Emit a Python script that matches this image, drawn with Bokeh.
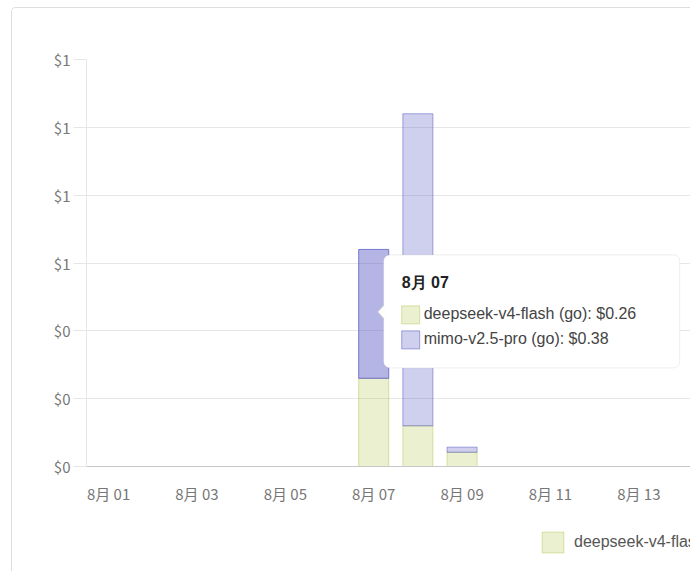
from bokeh.plotting import figure
from bokeh.layouts import column
from bokeh.models import (Range1d, FixedTicker, NumeralTickFormatter, Legend, LegendItem,
                          BoxAnnotation, ColumnDataSource)
from bokeh.core.properties import value
from bokeh.embed import file_html
from bokeh.resources import INLINE

# ---------------- data ----------------
dates = ["8月 01", "8月 02", "8月 03", "8月 04", "8月 05", "8月 06", "8月 07",
         "8月 08", "8月 09", "8月 10", "8月 11", "8月 12", "8月 13", "8月 14"]
series_names = ["deepseek-v4-flash (go)", "mimo-v2.5-pro (go)"]
deepseek = [0, 0, 0, 0, 0, 0, 0.26, 0.12, 0.042, 0, 0, 0, 0, 0]
mimo = [0, 0, 0, 0, 0, 0, 0.38, 0.92, 0.015, 0, 0, 0, 0, 0]
y_ticks = [0, 0.2, 0.4, 0.6, 0.8, 1.0, 1.2]
tooltip_date = "8月 07"
label_step = 2

# ---------------- styling / layout ----------------
FIG_W, FIG_H = 678, 508
LEG_H = 55
MB_L, MB_T, MB_B, MB_R = 74, 51, 50, 0
X0, X1 = -0.5, 13.17
Y0, Y1 = 0, 1.2
FRAME_W = FIG_W - MB_L - MB_R
FRAME_H = FIG_H - MB_T - MB_B
BAR_W = 0.68

GREEN = (175, 195, 70)
PURPLE = (95, 95, 200)


def dx(px):
    return px * (X1 - X0) / FRAME_W


def dy(px):
    return px * (Y1 - Y0) / FRAME_H


def rgba(c, a):
    return "rgba(%d,%d,%d,%.2f)" % (c[0], c[1], c[2], a)


hover_idx = dates.index(tooltip_date)

p = figure(width=FIG_W, height=FIG_H, output_backend="svg", toolbar_location=None,
           x_range=Range1d(X0, X1), y_range=Range1d(Y0, Y1),
           min_border_left=MB_L, min_border_top=MB_T, min_border_bottom=MB_B,
           min_border_right=MB_R)
p.outline_line_color = None
p.background_fill_color = "white"
p.border_fill_color = "white"

# bars
idx = list(range(len(dates)))
g_rows = [i for i in idx if deepseek[i] > 0]
m_rows = [i for i in idx if mimo[i] > 0]
src_g = ColumnDataSource(dict(x=g_rows, bottom=[0] * len(g_rows),
                              top=[deepseek[i] for i in g_rows]))
src_m = ColumnDataSource(dict(
    x=m_rows,
    bottom=[deepseek[i] for i in m_rows],
    top=[deepseek[i] + mimo[i] for i in m_rows],
    fill=[rgba(PURPLE, 0.47 if i == hover_idx else 0.30) for i in m_rows],
    line=[rgba(PURPLE, 0.80 if i == hover_idx else 0.55) for i in m_rows],
))
rg = p.vbar(x="x", bottom="bottom", top="top", width=BAR_W, source=src_g,
            fill_color=rgba(GREEN, 0.25), line_color=rgba(GREEN, 0.45), line_width=1)
rm = p.vbar(x="x", bottom="bottom", top="top", width=BAR_W, source=src_m,
            fill_color="fill", line_color="line", line_width=1)

# axes
xa = p.xaxis[0]
xa.ticker = FixedTicker(ticks=list(range(0, len(dates), label_step)))
xa.major_label_overrides = {i: dates[i] for i in range(0, len(dates), label_step)}
xa.major_tick_line_color = None
xa.minor_tick_line_color = None
xa.major_tick_out = 0
xa.axis_line_color = "#c8c8c8"
xa.major_label_standoff = 16
xa.major_label_text_font = "Noto Sans CJK SC"
xa.major_label_text_font_size = "15px"
xa.major_label_text_color = "#777777"

ya = p.yaxis[0]
ya.ticker = FixedTicker(ticks=y_ticks)
ya.formatter = NumeralTickFormatter(format="$0")
ya.axis_line_color = "#e6e6e6"
ya.major_tick_line_color = "#e6e6e6"
ya.major_tick_out = 13
ya.major_tick_in = 0
ya.minor_tick_line_color = None
ya.major_label_standoff = 3
ya.major_label_text_font = "Noto Sans CJK SC"
ya.major_label_text_font_size = "15px"
ya.major_label_text_color = "#777777"

p.xgrid.grid_line_color = None
p.ygrid.ticker = FixedTicker(ticks=y_ticks)
p.ygrid.grid_line_color = "#e6e6e6"

# tooltip for the hovered day
ax = hover_idx
ay = (deepseek[hover_idx] + (deepseek[hover_idx] + mimo[hover_idx])) / 2.0
box = BoxAnnotation(left=ax + dx(10), right=ax + dx(306), top=ay + dy(59), bottom=ay - dy(54),
                    fill_color="white", fill_alpha=1.0, line_color="#c8c8c8", line_width=1,
                    border_radius=6)
p.add_layout(box)

tip_x = ax + dx(4)
base_x = ax + dx(11)
cy = ay + dy(2)
car = p.patch(x=[tip_x, base_x, base_x], y=[cy, cy + dy(7), cy - dy(7)],
              fill_color="white", line_color=None)
car.level = "overlay"
car_l = p.line(x=[base_x - dx(1), tip_x, base_x - dx(1)], y=[cy + dy(7), cy, cy - dy(7)],
               line_color="#c8c8c8", line_width=1)
car_l.level = "overlay"

t1 = p.text(x=[ax], y=[ay], text=[tooltip_date], x_offset=28, y_offset=-31,
            text_font=value("Liberation Sans"), text_font_style="bold",
            text_font_size="16px", text_color="#222222", text_baseline="middle")
t1.level = "overlay"

vals = [deepseek[hover_idx], mimo[hover_idx]]
fills = [rgba(GREEN, 0.25), rgba(PURPLE, 0.30)]
lines = [rgba(GREEN, 0.45), rgba(PURPLE, 0.55)]
for k in range(2):
    sq = p.rect(x=[ax + dx(37)], y=[ay - dy(1 + 25 * k)], width=18, height=18,
                width_units="screen", height_units="screen",
                fill_color="white", line_color=None)
    sq.level = "overlay"
    sq2 = p.rect(x=[ax + dx(37)], y=[ay - dy(1 + 25 * k)], width=18, height=18,
                 width_units="screen", height_units="screen",
                 fill_color=fills[k], line_color=lines[k], line_width=1)
    sq2.level = "overlay"
    tt = p.text(x=[ax], y=[ay], text=["%s: $%.2f" % (series_names[k], vals[k])],
                x_offset=50, y_offset=25 * k,
                text_font=value("Liberation Sans"), text_font_size="16px",
                text_color="#444444", text_baseline="middle")
    tt.level = "overlay"

# legend strip (only the part inside the window is visible)
lp = figure(width=FIG_W, height=LEG_H, output_backend="svg", toolbar_location=None,
            x_range=Range1d(0, 1), y_range=Range1d(0, 1),
            min_border_left=MB_L, min_border_top=0, min_border_bottom=0, min_border_right=0,
            x_axis_type=None, y_axis_type=None)
lp.outline_line_color = None
lp.xgrid.grid_line_color = None
lp.ygrid.grid_line_color = None
lp.background_fill_color = "white"
lp.border_fill_color = "white"
lg = lp.vbar(x=[-10], top=[-10], width=0.5, fill_color=rgba(GREEN, 0.25),
             line_color=rgba(GREEN, 0.45), line_width=1)
lm = lp.vbar(x=[-10], top=[-10], width=0.5, fill_color=rgba(PURPLE, 0.30),
             line_color=rgba(PURPLE, 0.55), line_width=1)
legend = Legend(items=[LegendItem(label=series_names[0], renderers=[lg]),
                       LegendItem(label=series_names[1], renderers=[lm])],
                orientation="horizontal", location=(453, 16),
                glyph_width=27, glyph_height=26, label_standoff=8, spacing=12,
                padding=0, margin=0, label_text_font="Liberation Sans",
                label_text_font_size="16px", label_text_color="#555555",
                background_fill_alpha=0, border_line_alpha=0)
lp.add_layout(legend, "center")

layout = column(p, lp, spacing=0, margin=(7, 0, 0, 11),
                styles={"border-left": "1px solid #dddddd", "border-top": "1px solid #dddddd",
                        "border-top-left-radius": "5px"})

open("out.html", "w").write(file_html(layout, INLINE))
